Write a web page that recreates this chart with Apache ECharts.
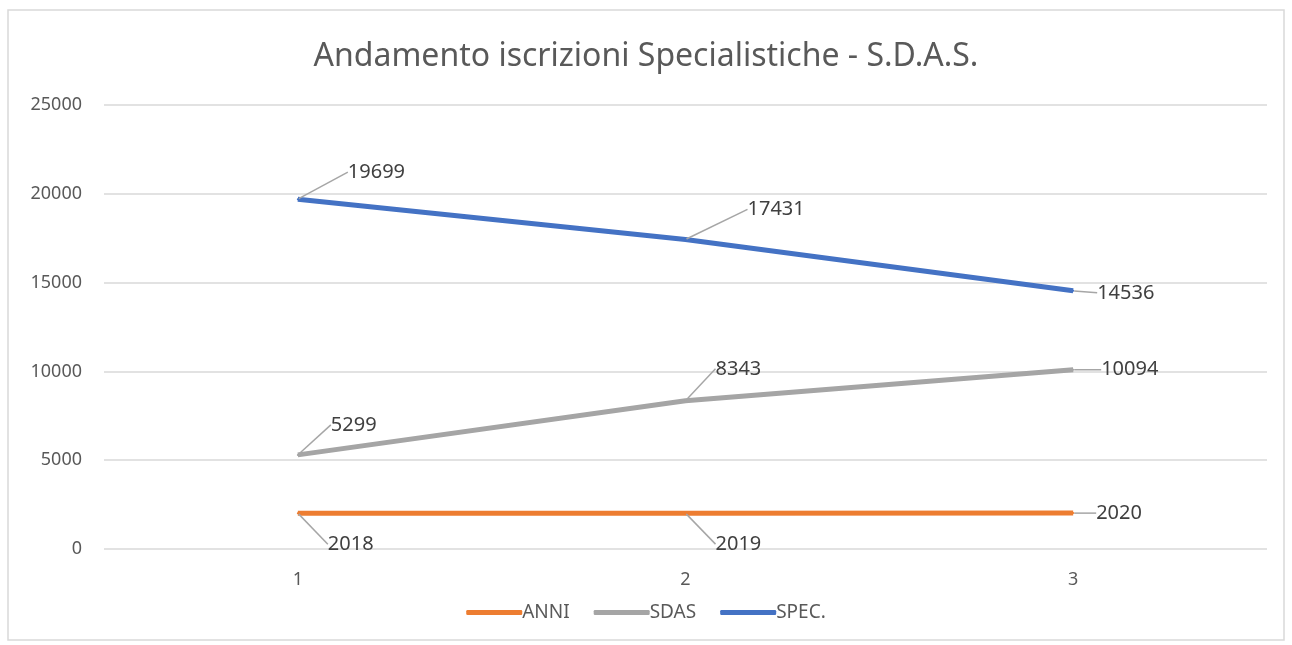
<!DOCTYPE html>
<html>
<head>
<meta charset="utf-8">
<script src="https://cdn.jsdelivr.net/npm/echarts@6/dist/echarts.min.js"></script>
<style>
html, body { margin: 0; padding: 0; background: #fff; }
#chart { width: 1292px; height: 645px; }
</style>
</head>
<body>
<div id="chart"></div>
<script>
// dati
var categorie = ['1', '2', '3'];
var anni = [2018, 2019, 2020];
var sdas = [5299, 8343, 10094];
var spec = [19699, 17431, 14536];

// spostamento etichette (dx, dy) rispetto al punto
var offsetEtichette = {
    'ANNI':  [[29, 31], [29, 31], [22, 0]],
    'SDAS':  [[32, -30], [29, -32], [27, 0]],
    'SPEC.': [[49, -27], [61, -30], [23, 2]]
};

var chart = echarts.init(document.getElementById('chart'));

function serie(nome, dati, colore) {
    return {
        name: nome,
        type: 'line',
        data: dati,
        symbol: 'circle',
        symbolSize: 2,
        color: colore,
        lineStyle: { width: 5, color: colore },
        itemStyle: { color: colore },
        label: {
            show: true,
            position: 'right',
            distance: 0,
            color: '#404040',
            fontSize: 20,
            fontFamily: 'Noto Sans'
        },
        labelLine: {
            show: true,
            lineStyle: { color: '#a6a6a6', width: 1.5 }
        },
        labelLayout: function (p) {
            var o = offsetEtichette[nome][p.dataIndex];
            return { dx: o[0], dy: o[1] };
        }
    };
}

var option = {
    animation: false,
    backgroundColor: '#fff',
    textStyle: { fontFamily: 'Noto Sans' },
    graphic: [{
        type: 'rect',
        shape: { x: 8, y: 10, width: 1276, height: 630 },
        style: { fill: 'none', stroke: '#d9d9d9', lineWidth: 1.5 },
        z: -1
    }],
    title: {
        text: 'Andamento iscrizioni Specialistiche - S.D.A.S.',
        left: 'center',
        top: 36,
        textStyle: { fontSize: 32, fontWeight: 'normal', color: '#595959', fontFamily: 'Noto Sans' }
    },
    legend: {
        bottom: 18,
        left: 'center',
        itemWidth: 56,
        itemHeight: 5,
        itemGap: 24,
        icon: 'roundRect',
        textStyle: { fontSize: 19, color: '#595959', padding: [0, 0, 0, -5] },
        data: ['ANNI', 'SDAS', 'SPEC.']
    },
    grid: { left: 104, right: 25, top: 105, bottom: 96 },
    xAxis: {
        type: 'category',
        data: categorie,
        boundaryGap: true,
        axisLine: { show: false },
        axisTick: { show: false },
        axisLabel: { fontSize: 18, color: '#595959', margin: 22 }
    },
    yAxis: {
        type: 'value',
        min: 0,
        max: 25000,
        interval: 5000,
        axisLine: { show: false },
        axisTick: { show: false },
        splitLine: { lineStyle: { color: '#d9d9d9', width: 1.5 } },
        axisLabel: {
            fontSize: 18,
            color: '#595959',
            margin: 22,
            formatter: function (v) { return String(v); }
        }
    },
    series: [
        serie('ANNI', anni, '#ed7d31'),
        serie('SDAS', sdas, '#a5a5a5'),
        serie('SPEC.', spec, '#4472c4')
    ]
};

chart.setOption(option);
</script>
</body>
</html>
